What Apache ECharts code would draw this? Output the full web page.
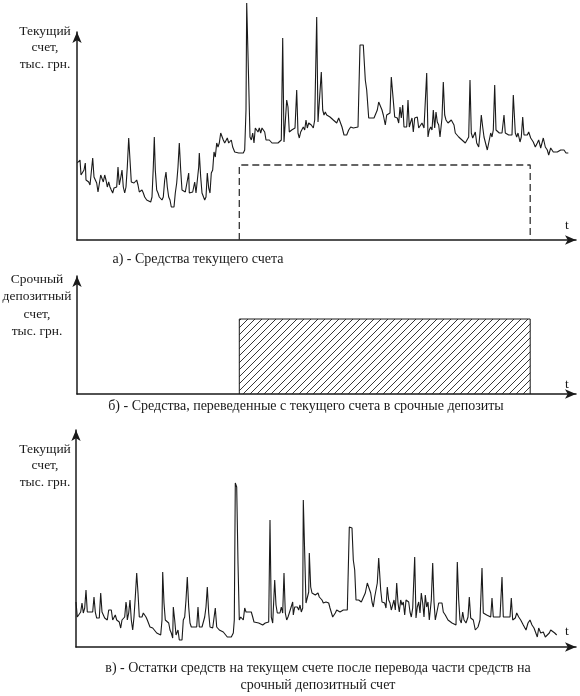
<!DOCTYPE html>
<html>
<head>
    <meta charset="utf-8">
    <style>
        body { margin: 0; background: #fff; }
        #main { width: 580px; height: 696px; }
    </style>
    <script src="https://cdn.jsdelivr.net/npm/echarts@6/dist/echarts.min.js"></script>
</head>
<body>
    <div id="main"></div>
    <script type="text/javascript">
        // а) текущий счет до перевода: [t, тыс. грн.] (условные единицы)
        var currentBefore = [
            [0.3,77],[3,80],[4,65],[5.7,63],[7,70],[8.3,77],[9,60],[10.3,58],[11.7,58],[13,55],[14.3,55],[15.7,82],
            [17,63],[18.3,65],[19.7,57],[21,48],[22.3,48],[23.7,65],[25,63],[26.3,58],[27.7,65],[29,60],[30.3,53],
            [31.7,58],[33,53],[34.3,50],[35.7,47],[37,52],[38.3,53],[39.7,53],[41,73],[42.3,55],[43.7,62],[45,70],
            [46.3,53],[47.7,47],[49,53],[50.3,73],[51.7,102],[53,80],[54.3,58],[55.7,58],[57,57],[58.3,58],[59.7,60],
            [61,55],[62.3,48],[63.7,48],[65,50],[66.3,47],[67.7,43],[69.7,40],[71.7,38],[73.7,38],[75,43],[76.3,73],
            [77.3,103],[78.3,70],[79.7,50],[81,47],[82.3,43],[83.7,43],[85,40],[86.3,43],[87.7,60],[89,68],[90.3,53],
            [91.7,43],[93,40],[94.3,33],[95.7,33],[97,33],[98.3,47],[99.7,57],[101,73],[102.3,97],[103.7,70],[105,50],
            [106.3,48],[108.3,48],[110.3,48],[111.7,67],[112.3,47],[113.7,47],[115.7,48],[117.7,58],[119,47],[120.3,47],
            [121.7,73],[122.3,87],[123.7,63],[125,47],[126.3,47],[127.7,40],[129,43],[130.3,67],[131.7,52],[133,47],
            [134.3,67],[135.7,70],[137,88],[138.3,83],[139.7,97],[141,93],[142.3,97],[143.7,107],[145,108],[146.3,100],
            [147.7,97],[149,97],[150.3,102],[151.7,97],[153,95],[154.3,100],[155.7,93],[157.7,88],[159.7,87],[161.7,87],
            [163.7,86],[166.3,87],[167.7,90],[169,130],[169.7,237],[171,235],[171.7,157],[173,103],[174.3,100],[175.7,107],
            [177,97],[178.3,112],[179.7,110],[181,108],[182.3,112],[183.7,107],[185,112],[186.3,110],[187.7,108],[189,100],
            [190.3,100],[192.3,100],[193.7,98],[195,97],[196.3,98],[198.3,97],[199.7,98],[201,97],[203,98],[204.3,100],
            [205.7,202],[207,98],[208.3,100],[209.7,140],[211,133],[212.3,108],[213,108],[214.7,110],[216.3,108],[218,112],
            [219.7,150],[221,107],[222.3,102],[223.7,108],[225,108],[226.3,113],[227.7,110],[229,120],[230.3,112],[231.7,117],
            [233,117],[234.3,115],[236.3,112],[237.7,120],[239,118],[239.7,223],[241,118],[243,118],[244.3,168],[245.7,130],
            [247,125],[248.3,128],[249.7,125],[251.7,127],[253,123],[254.3,125],[256.3,120],[258.3,122],[259.7,117],
            [261.7,122],[263,120],[265,113],[267,105],[269.7,105],[271.7,110],[273.7,113],[276.3,112],[278.3,112],[281,113],
            [281.7,115],[283,195],[286.3,195],[288.3,160],[289.7,150],[291.7,122],[294.3,122],[297,122],[299,120],[300.3,130],
            [301.7,138],[303.7,138],[305,130],[306.3,125],[308.3,115],[309.7,125],[311.7,123],[313,127],[314.3,163],
            [316.3,163],[317.7,123],[319,122],[320.3,122],[321.7,117],[323,133],[324.3,122],[325.7,135],[327,113],[328.3,115],
            [329.7,113],[331,140],[332.3,113],[333.7,118],[335,122],[336.3,108],[337.7,122],[339,122],[340.3,123],[341.7,112],
            [343,112],[345,117],[347,112],[348.3,110],[349.7,167],[351,103],[352.3,110],[353.7,113],[355,110],[356.3,130],
            [357.7,112],[359,128],[360.3,118],[361.7,115],[363,103],[365,122],[366.3,158],[367.7,125],[369,120],[371,117],
            [373,117],[374.3,120],[375.7,118],[377,115],[378.3,107],[379.7,107],[381.7,103],[383.7,103],[385,100],[386.3,98],
            [388.3,97],[389.7,97],[391.7,103],[393,160],[394.3,107],[395.7,102],[397,105],[398.3,108],[399.7,97],[401.7,93],
            [403,107],[404.3,125],[405.7,113],[407,103],[409,103],[410.3,90],[412.3,92],[413.7,107],[415,103],[416.3,110],
            [417.7,155],[419,110],[420.3,108],[422.3,107],[425,107],[426.3,108],[427,125],[428.3,107],[429.7,107],[431.7,105],
            [435,105],[436.3,145],[438.3,107],[439.7,103],[441,107],[443,98],[444.3,103],[445.7,123],[447,105],[448.3,103],
            [450.3,105],[451.7,108],[453.7,102],[456.3,98],[458.3,93],[460.3,97],[461.7,100],[463.7,92],[466.3,102],
            [468.3,93],[470.3,90],[471.7,85],[473.7,92],[476.3,88],[478.3,87],[480.3,88],[482.3,88],[483.7,90],[485.7,92],
            [487,90],[489,87],[491.3,87]
        ];

        // б) перевод на срочный депозит
        var transferStart = 162.3;
        var transferEnd = 453.2;
        var transferAmount = 75;

        // в) остатки на текущем счете после перевода
        var currentAfter = [
            [0,45],[1.3,30],[3.3,30],[4.7,35],[6,44],[7.3,34],[8.7,39],[10,57],[11.3,35],[12.7,37],[14,35],[15.3,37],
            [16.7,35],[18,50],[19.3,35],[20.7,29],[22,27],[23.3,29],[24.7,54],[26,35],[27.3,37],[28.7,29],[30,30],[31.3,27],
            [32.7,37],[34,39],[35.3,37],[36.7,27],[38,29],[39.3,32],[40.7,27],[42,27],[43.3,25],[44.7,19],[46,27],[47.3,25],
            [48.7,30],[50,45],[50.7,40],[51.3,27],[52.7,34],[54,47],[55.3,27],[56.7,17],[58,30],[59.3,50],[60.7,74],[62,54],
            [63.3,30],[64.7,30],[66,30],[67.3,34],[68.7,34],[70,30],[71.3,27],[72.7,27],[74,20],[75.3,19],[76.7,19],[78.7,17],
            [80.7,14],[82.7,12],[84.7,12],[86,27],[86.7,75],[88,44],[89.3,27],[90.7,25],[92.7,24],[94,17],[95.3,14],[96.7,9],
            [97.3,40],[98.7,27],[100,12],[102,17],[103.3,7],[104.7,7],[106,7],[107.3,27],[108.7,30],[110,47],[111.3,70],
            [112.7,40],[114,24],[115.3,20],[116.7,22],[118,20],[119.3,19],[120.7,20],[122,40],[123.3,20],[124.7,19],[126,20],
            [127.3,20],[128.7,30],[130,40],[131.3,60],[132.7,34],[134,20],[135.3,19],[136.7,19],[138,20],[139.3,39],[140.7,20],
            [142,19],[143.3,17],[145.3,17],[147.3,15],[149.3,14],[151.3,10],[153.3,10],[155.3,10],[157.3,14],[158.3,27],
            [159.3,164],[160.7,160],[162,84],[163.3,27],[164.7,30],[166,32],[167.3,27],[168.7,39],[170,35],[171.3,34],
            [172.7,35],[174,34],[175.3,35],[176.7,30],[178,25],[180,24],[182.7,24],[184.7,24],[186.7,22],[188,24],[189.3,24],
            [191.3,24],[192.7,25],[194,127],[195.3,30],[196.7,24],[197.3,24],[198.7,67],[200,42],[201.3,34],[202.7,35],
            [204,34],[205.3,40],[206.7,34],[208,74],[209.3,34],[210.7,27],[212,30],[213.3,34],[214,32],[215.3,35],[216.7,45],
            [217.3,32],[218.7,40],[220,39],[221.3,40],[222.7,37],[224,42],[225.3,35],[226.7,39],[227.3,147],[228.7,147],
            [230,44],[231.3,44],[232.7,55],[233.3,94],[234.7,60],[236,54],[237.3,55],[239.3,52],[240.7,52],[242,54],[243.3,50],
            [244.7,49],[246,47],[247.3,44],[248.7,42],[250,45],[251.3,47],[252.7,44],[254,39],[255.3,37],[256.7,30],[258,30],
            [259.3,34],[260.7,37],[262.7,39],[264,35],[266,35],[267.3,37],[269.3,35],[271.3,37],[272,39],[273.3,120],
            [276,119],[277.3,87],[278.7,77],[280,47],[282.7,47],[285.3,45],[287.3,44],[289.3,54],[291.3,64],[293.3,64],
            [294.7,54],[296,45],[297.3,40],[298.7,50],[300,49],[301.3,64],[302.7,89],[304,89],[304.7,57],[306,45],[307.3,45],
            [308.7,44],[310,39],[311.3,60],[312.7,47],[314,44],[315.3,37],[316.7,37],[318,47],[319.3,37],[320.7,64],[322,44],
            [323.3,35],[324.7,47],[326,42],[327.3,45],[328.7,32],[330,47],[331.3,47],[332.7,45],[334,35],[335.3,30],[336.7,39],
            [338.7,90],[340,29],[341.3,40],[342.7,45],[344,34],[345.3,54],[346.7,44],[348,30],[349.3,52],[350.7,40],[352,45],
            [353.3,27],[355.3,47],[356.7,84],[358,45],[359.3,27],[360.7,34],[362.7,44],[364.7,42],[366,44],[367.3,35],
            [369.3,32],[370.7,34],[372,27],[374,25],[376,24],[378,22],[380,22],[381.3,85],[382.7,47],[384,27],[385.3,24],
            [386.7,35],[388,27],[390,24],[392,30],[393.3,50],[394.7,29],[396,30],[397.3,27],[399.3,17],[400.7,17],[402,20],
            [404,27],[406,79],[407.3,34],[408.7,32],[410.7,32],[412.7,32],[414.7,30],[416,49],[417.3,30],[419.3,30],[421.3,30],
            [424,30],[426,70],[427.3,30],[429.3,30],[431.3,30],[432.7,29],[434,30],[435.3,49],[436.7,27],[438,29],[439.3,29],
            [440.7,34],[442.7,30],[444.7,27],[447.3,22],[450,17],[452,24],[454,27],[456,22],[458,19],[460,17],[461.3,10],
            [462.7,19],[464.7,14],[467.3,15],[469.3,10],[471.3,12],[473.3,14],[474.7,17],[476.7,15],[478.7,14],[480.7,12]
        ];

        var transferRect = [
            [transferStart, 0], [transferStart, transferAmount],
            [transferEnd, transferAmount], [transferEnd, 0]
        ];

        // штриховка для депозита
        var hatch = document.createElement('canvas');
        hatch.width = 7;
        hatch.height = 7;
        var hctx = hatch.getContext('2d');
        hctx.strokeStyle = '#222';
        hctx.lineWidth = 0.9;
        hctx.beginPath();
        hctx.moveTo(-1, 8); hctx.lineTo(8, -1);
        hctx.moveTo(-1, 1); hctx.lineTo(1, -1);
        hctx.moveTo(6, 8); hctx.lineTo(8, 6);
        hctx.stroke();

        var serif = '"Liberation Serif", "Times New Roman", serif';
        var ink = '#1a1a1a';

        function makeX(idx, max, tPad) {
            return {
                type: 'value', gridIndex: idx, min: 0, max: max,
                name: 't', nameLocation: 'end', nameGap: -9,
                nameTextStyle: { fontFamily: serif, fontSize: 13.5, color: ink, align: 'center', verticalAlign: 'bottom', padding: [0, 0, tPad, 0] },
                axisLine: { show: true, symbol: ['none', 'arrow'], symbolSize: [7, 11], lineStyle: { color: ink, width: 1.5 } },
                axisTick: { show: false }, axisLabel: { show: false }, splitLine: { show: false }
            };
        }
        function makeY(idx, max) {
            return {
                type: 'value', gridIndex: idx, min: 0, max: max,
                axisLine: { show: true, symbol: ['none', 'arrow'], symbolSize: [7, 11], lineStyle: { color: ink, width: 1.5 } },
                axisTick: { show: false }, axisLabel: { show: false }, splitLine: { show: false }
            };
        }
        function txt(text, x, y, size, lh) {
            return {
                type: 'text', x: x, y: y,
                style: { text: text, font: size + 'px ' + serif, fill: ink, align: 'center', verticalAlign: 'middle', lineHeight: lh || 17 }
            };
        }

        var myChart = echarts.init(document.getElementById('main'));
        var option = {
            backgroundColor: '#fff',
            animation: false,
            grid: [
                { left: 77, top: 32, width: 499, height: 208 },
                { left: 77, top: 276, width: 499, height: 118 },
                { left: 76, top: 430, width: 500, height: 217 }
            ],
            xAxis: [makeX(0, 499, 8), makeX(1, 499, 3), makeX(2, 500, 9)],
            yAxis: [makeY(0, 208), makeY(1, 118), makeY(2, 217)],
            series: [{
                type: 'line', xAxisIndex: 0, yAxisIndex: 0, data: currentBefore,
                symbol: 'none', clip: false, lineStyle: { color: ink, width: 1.1 }
            }, {
                type: 'line', xAxisIndex: 0, yAxisIndex: 0, data: transferRect,
                symbol: 'none', lineStyle: { color: '#333', width: 1.3, type: [7, 4] }
            }, {
                type: 'line', xAxisIndex: 1, yAxisIndex: 1, data: transferRect,
                symbol: 'none', lineStyle: { color: ink, width: 1 },
                areaStyle: { color: { image: hatch, repeat: 'repeat' }, opacity: 1 }
            }, {
                type: 'line', xAxisIndex: 2, yAxisIndex: 2, data: currentAfter,
                symbol: 'none', clip: false, lineStyle: { color: ink, width: 1.1 }
            }],
            graphic: [
                txt('Текущий\nсчет,\nтыс. грн.', 45, 47.5, 13.5, 16.5),
                txt('а) - Средства текущего счета', 198, 259, 14),
                txt('Срочный\nдепозитный\nсчет,\nтыс. грн.', 37, 305.5, 13.5, 17.3),
                txt('б) - Средства, переведенные с текущего счета в срочные депозиты', 306, 406, 14),
                txt('Текущий\nсчет,\nтыс. грн.', 45, 465.5, 13.5, 16.5),
                txt('в) - Остатки средств на текущем счете после перевода части средств на\nсрочный депозитный счет', 318, 676.5, 14, 17)
            ]
        };
        myChart.setOption(option);
    </script>
</body>
</html>
